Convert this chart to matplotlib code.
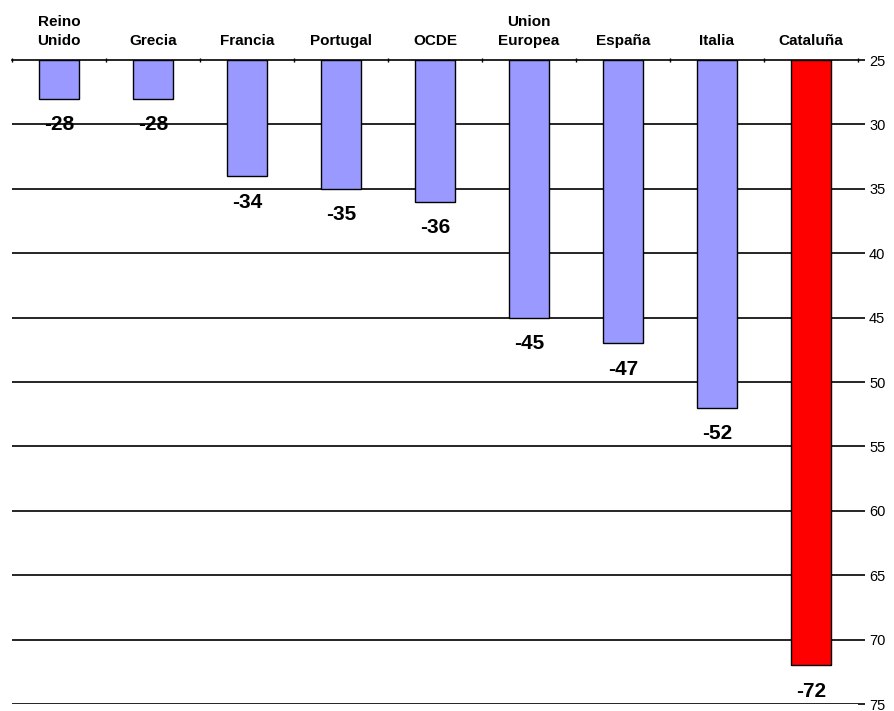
import numpy as np
import matplotlib.pyplot as plt

plt.rcParams['font.family'] = ['Liberation Sans', 'DejaVu Sans']

categories = ['Reino\nUnido', 'Grecia', 'Francia', 'Portugal', 'OCDE',
              'Union\nEuropea', 'España', 'Italia', 'Cataluña']
values = [-28, -28, -34, -35, -36, -45, -47, -52, -72]
colors = ['#9999FF'] * 8 + ['#FF0000']
y_ticks = [25, 30, 35, 40, 45, 50, 55, 60, 65, 70, 75]

fig = plt.figure(figsize=(8.94, 7.11), dpi=100)
ax = fig.add_axes([12 / 894, 7 / 711, 846 / 894, 644 / 711])

x = np.arange(len(categories))
base = 25
depth = [abs(v) - base for v in values]
ax.bar(x, depth, bottom=base, width=0.42, color=colors, edgecolor='black',
       linewidth=1.0, zorder=3)

for xi, v in zip(x, values):
    ax.annotate(str(v), (xi, abs(v)), xytext=(0, -12), textcoords='offset points',
                ha='center', va='top', fontsize=15, fontweight='bold', zorder=4)

ax.set_xlim(-0.5, len(categories) - 0.5)
ax.set_ylim(75, 25)

# horizontal grid
for t in y_ticks[1:]:
    ax.axhline(t, color='black', linewidth=1.2, zorder=1)

for s in ['left', 'right', 'bottom']:
    ax.spines[s].set_visible(False)
ax.spines['top'].set_linewidth(1.2)

ax.yaxis.tick_right()
ax.set_yticks(y_ticks)
ax.tick_params(axis='y', length=5, width=1.2, labelsize=10.5, pad=3)

ax.xaxis.tick_top()
ax.set_xticks(x)
ax.set_xticklabels(categories, fontsize=11, fontweight='bold', linespacing=1.45)
for lbl in ax.get_xticklabels():
    lbl.set_verticalalignment('baseline')
ax.set_xticks(np.arange(len(categories) + 1) - 0.5, minor=True)
ax.tick_params(axis='x', which='major', length=0, pad=11)
ax.tick_params(axis='x', which='minor', length=3, width=1.0, direction='inout')

fig.savefig('out.png', dpi=100)
